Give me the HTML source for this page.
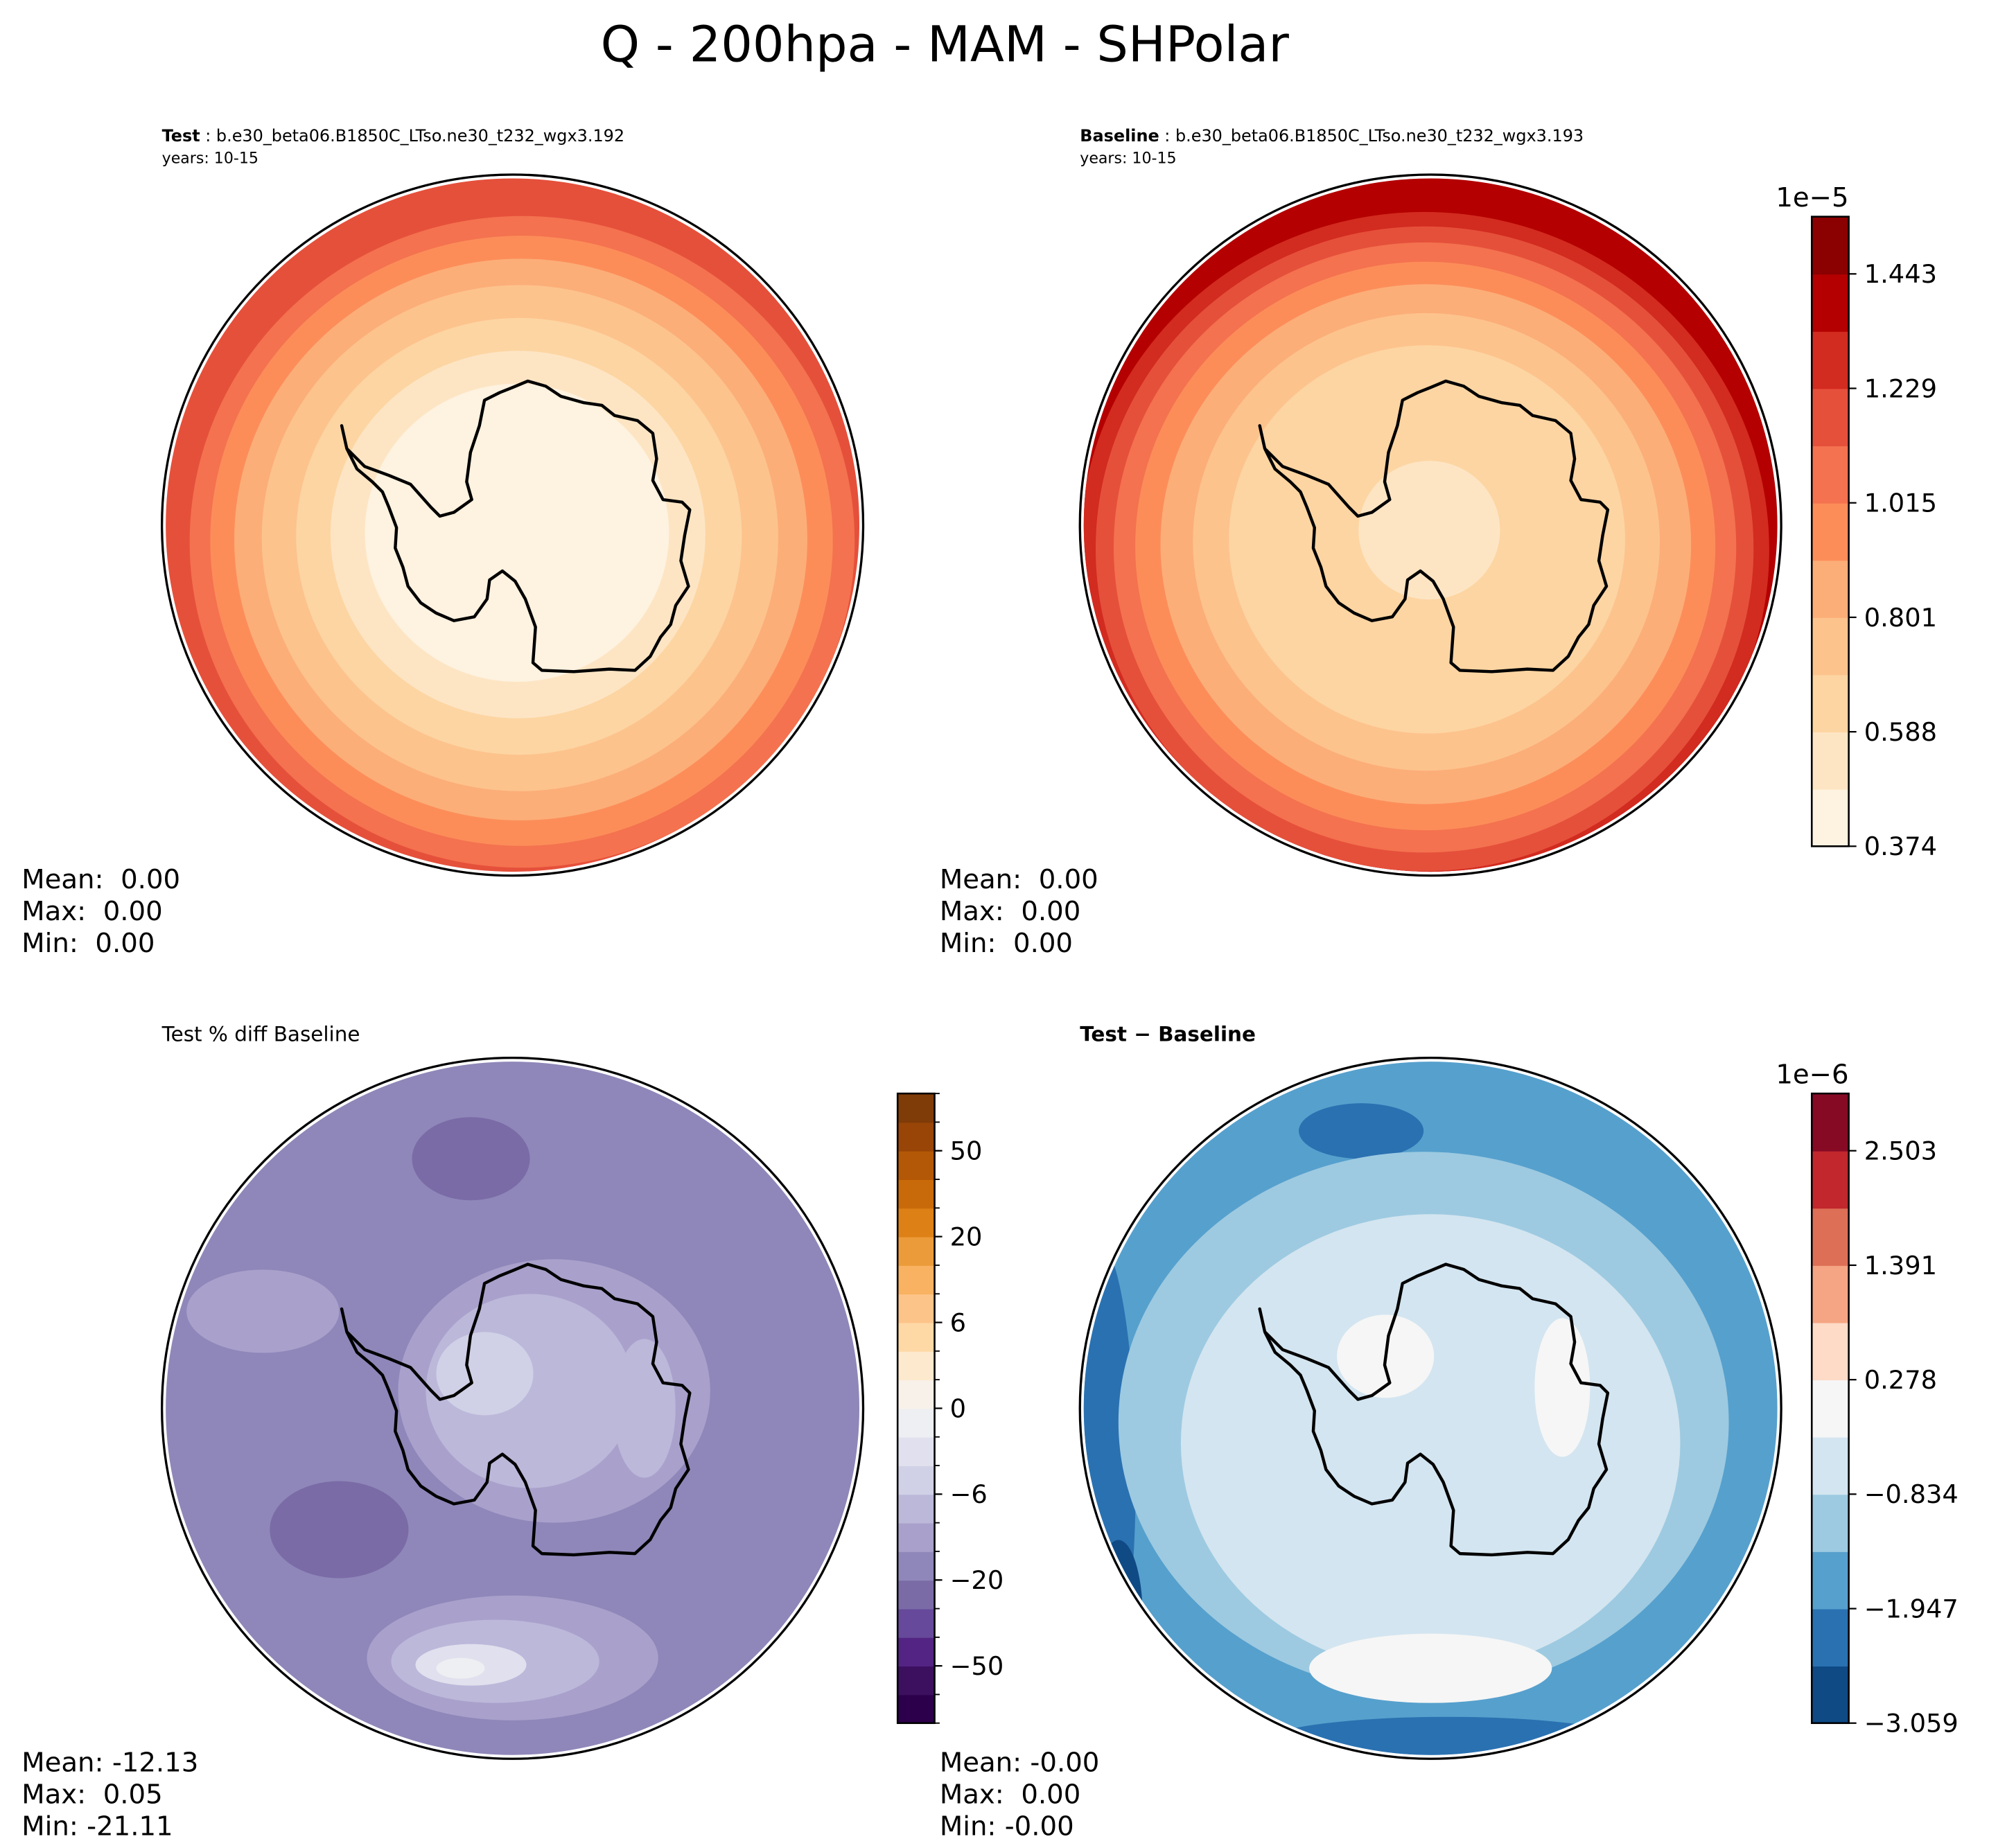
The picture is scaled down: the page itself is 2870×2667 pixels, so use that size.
<!DOCTYPE html>
<html><head><meta charset="utf-8"><style>
html,body{margin:0;padding:0;background:#fff}
svg{display:block}
text{font-family:"DejaVu Sans","Liberation Sans",sans-serif;fill:#000;white-space:pre}
</style></head><body>
<svg id="fig" xmlns="http://www.w3.org/2000/svg" width="2870" height="2667" viewBox="0 0 1560 1450" preserveAspectRatio="none" xml:space="preserve">
<text x="741" y="48" font-size="39" text-anchor="middle">Q - 200hpa - MAM - SHPolar</text>
<text x="127" y="111" font-size="13"><tspan font-weight="bold">Test</tspan> : b.e30_beta06.B1850C_LTso.ne30_t232_wgx3.192</text>
<text x="127" y="128" font-size="12">years: 10-15</text>
<text x="847" y="111" font-size="13"><tspan font-weight="bold">Baseline</tspan> : b.e30_beta06.B1850C_LTso.ne30_t232_wgx3.193</text>
<text x="847" y="128" font-size="12">years: 10-15</text>
<text x="127" y="817" font-size="16">Test % diff Baseline</text>
<text x="847" y="817" font-size="16" font-weight="bold">Test − Baseline</text>
<g id="panels"></g>
</svg>
<script>
const NS='http://www.w3.org/2000/svg';
const orRdColors=['#fef2e0','#fde5c4','#fdd5a2','#fdc38d','#fcae78','#fc8d59','#f4724f','#e5503b','#d22b1f','#b40000','#8b0000'];
const orRdTicks=['0.374','0.588','0.801','1.015','1.229','1.443'];
const puOrColors=['#2d004b','#3d105f','#532483','#66499a','#7a6ba7','#8f87b9','#a9a1cb','#bcb8da','#d0d1e6','#e0e0ee','#eeeff2','#f8f1e9','#fde9cd','#fed9a6','#fdc48a','#f8b261','#ec9b3a','#dd8116','#c96a0a','#b35806','#984507','#7f3b08'];
const puOrTicks=['−50','−20','−6','0','6','20','50'];
const rdBuColors=['#0f4a85','#2a71b1','#56a0cd','#9dcae1','#d3e5f0','#f6f6f6','#fddbc7','#f5a583','#dd6f57','#c1272d','#870a25'];
const rdBuTicks=['−3.059','−1.947','−0.834','0.278','1.391','2.503'];
const testRings=[[7,1.1],[6,0.94],[5,0.88],[4,0.81],[3,0.73],[2,0.63],[1,0.53],[0,0.43]];
const baseRings=[[9,1.1],[8,0.975],[7,0.93],[6,0.88],[5,0.82],[4,0.75],[3,0.66],[2,0.56],[1,0.2]];
const pctBlobs=[[5,0,0,1.05,1.05],[4,-0.12,-0.72,0.17,0.12],[4,-0.5,0.35,0.2,0.14],[6,-0.72,-0.28,0.22,0.12],[6,0.12,-0.05,0.45,0.38],[7,0.05,-0.05,0.3,0.28],[8,-0.08,-0.1,0.14,0.12],[6,0.0,0.72,0.42,0.18],[7,-0.05,0.73,0.3,0.12],[9,-0.12,0.74,0.16,0.06],[10,-0.15,0.75,0.07,0.03],[7,0.38,0.0,0.09,0.2]];
const diffBlobs=[[2,0,0,1.05,1.05],[1,-0.97,0.2,0.12,0.7],[0,-0.9,0.6,0.07,0.22],[1,0.05,0.97,0.55,0.08],[1,-0.2,-0.8,0.18,0.08],[3,-0.02,0.04,0.88,0.78],[4,0.0,0.1,0.72,0.66],[5,-0.13,-0.15,0.14,0.12],[5,0.38,-0.06,0.08,0.2],[5,0.0,0.75,0.35,0.1]];
const coast=[[268,334],[272,352],[286,366],[305,373],[322,380],[338,398],[345,405],[356,402],[370,392],[366,378],[369,355],[376,334],[380,314],[392,308],[402,304],[414,299],[428,303],[440,311],[458,316],[472,318],[482,326],[500,330],[512,340],[515,360],[512,377],[520,392],[535,394],[541,400],[537,420],[534,440],[540,460],[530,475],[526,490],[518,500],[510,515],[498,526],[478,525],[450,527],[425,526],[418,520],[420,492],[412,470],[404,456],[394,448],[384,455],[382,470],[372,484],[356,487],[342,481],[330,473],[320,460],[316,445],[310,430],[311,414],[305,398],[300,386],[292,378],[280,368],[272,352]];
const panels=[
 {name:'test',cx:402,cy:412,cb:null,stats:['Mean:  0.00','Max:  0.00','Min:  0.00']},
 {name:'baseline',cx:1122,cy:412,cb:{x:1421,y:170,colors:orRdColors,ticks:orRdTicks,first:0,step:2,exp:'1e−5'},stats:['Mean:  0.00','Max:  0.00','Min:  0.00']},
 {name:'pct-diff',cx:402,cy:1105,cb:{x:704,y:858,colors:puOrColors,ticks:puOrTicks,first:2,step:3,exp:null,minor:true},stats:['Mean: -12.13','Max:  0.05','Min: -21.11']},
 {name:'diff',cx:1122,cy:1105,cb:{x:1421,y:858,colors:rdBuColors,ticks:rdBuTicks,first:0,step:2,exp:'1e−6'},stats:['Mean: -0.00','Max:  0.00','Min: -0.00']}
];
const R=272;
const root=document.getElementById('panels');
function mk(t,a,p){const e=document.createElementNS(NS,t);for(const k in a)e.setAttribute(k,a[k]);(p||root).appendChild(e);return e;}
panels.forEach((p,i)=>{
  const g=mk('g',{});
  
  
  const clip=mk('clipPath',{id:'clip'+i},g);
  mk('circle',{cx:p.cx,cy:p.cy,r:R},clip);
  const fg=mk('g',{'clip-path':'url(#clip'+i+')'},g);
  if(i<2){
    const rings=i===0?testRings:baseRings;
    const ox=i===0?8:-5, oy=i===0?14:20;
    rings.forEach(([lv,f])=>{
      const c=mk('ellipse',{cx:p.cx+ox*f,cy:p.cy+oy*f,rx:R*f*1.02,ry:R*f*1.0,fill:orRdColors[lv]},fg);
      
      
    });
  } else {
    const blobs=i===2?pctBlobs:diffBlobs, cols=i===2?puOrColors:rdBuColors;
    blobs.forEach(([lv,dx,dy,rx,ry])=>{
      const c=mk('ellipse',{cx:p.cx+dx*R,cy:p.cy+dy*R,rx:rx*R,ry:ry*R,fill:cols[lv]},fg);
      
      
    });
  }
  const dx=p.cx-402, dy=p.cy-412;
  const cl=mk('polygon',{points:coast.map(q=>(q[0]+dx)+','+(q[1]+dy)).join(' '),fill:'none',stroke:'#000','stroke-width':2.4,'stroke-linejoin':'round'},fg);
  
  
  const bo=mk('circle',{cx:p.cx,cy:p.cy,r:R+3,fill:'none',stroke:'#000','stroke-width':1.8},g);
  
  
  const st=mk('text',{x:17,y:p.cy+285,'font-size':21});
  
  
  st.setAttribute('transform','translate('+(i%2?720:0)+',0)');
  p.stats.forEach((s,k)=>{const t=mk('tspan',{x:17,dy:k?25:0},st);t.textContent=s;});
  if(p.cb){
    const cb=p.cb,W=29,H=494,n=cb.colors.length,h=H/n;
    const cg=mk('g',{});
    
    
    cb.colors.forEach((c,k)=>{mk('rect',{x:cb.x,y:cb.y+H-(k+1)*h,width:W,height:h+0.5,fill:c},cg);});
    mk('rect',{x:cb.x,y:cb.y,width:W,height:H,fill:'none',stroke:'#000','stroke-width':1.4},cg);
    if(cb.minor){for(let k=0;k<=n;k++){mk('line',{x1:cb.x+W,x2:cb.x+W+4,y1:cb.y+H-k*h,y2:cb.y+H-k*h,stroke:'#000','stroke-width':1},cg);}}
    cb.ticks.forEach((t,k)=>{
      const yy=cb.y+H-(cb.first+k*cb.step)*h;
      mk('line',{x1:cb.x+W,x2:cb.x+W+6,y1:yy,y2:yy,stroke:'#000','stroke-width':1.2},cg);
      const tx=mk('text',{x:cb.x+W+12,y:yy+7,'font-size':20},cg);
      
      
      tx.textContent=t;
    });
    if(cb.exp){const e=mk('text',{x:cb.x+W,y:cb.y-8,'font-size':21,'text-anchor':'end'},cg);e.textContent=cb.exp;
      
      }
  }
});
</script>
</body></html>
